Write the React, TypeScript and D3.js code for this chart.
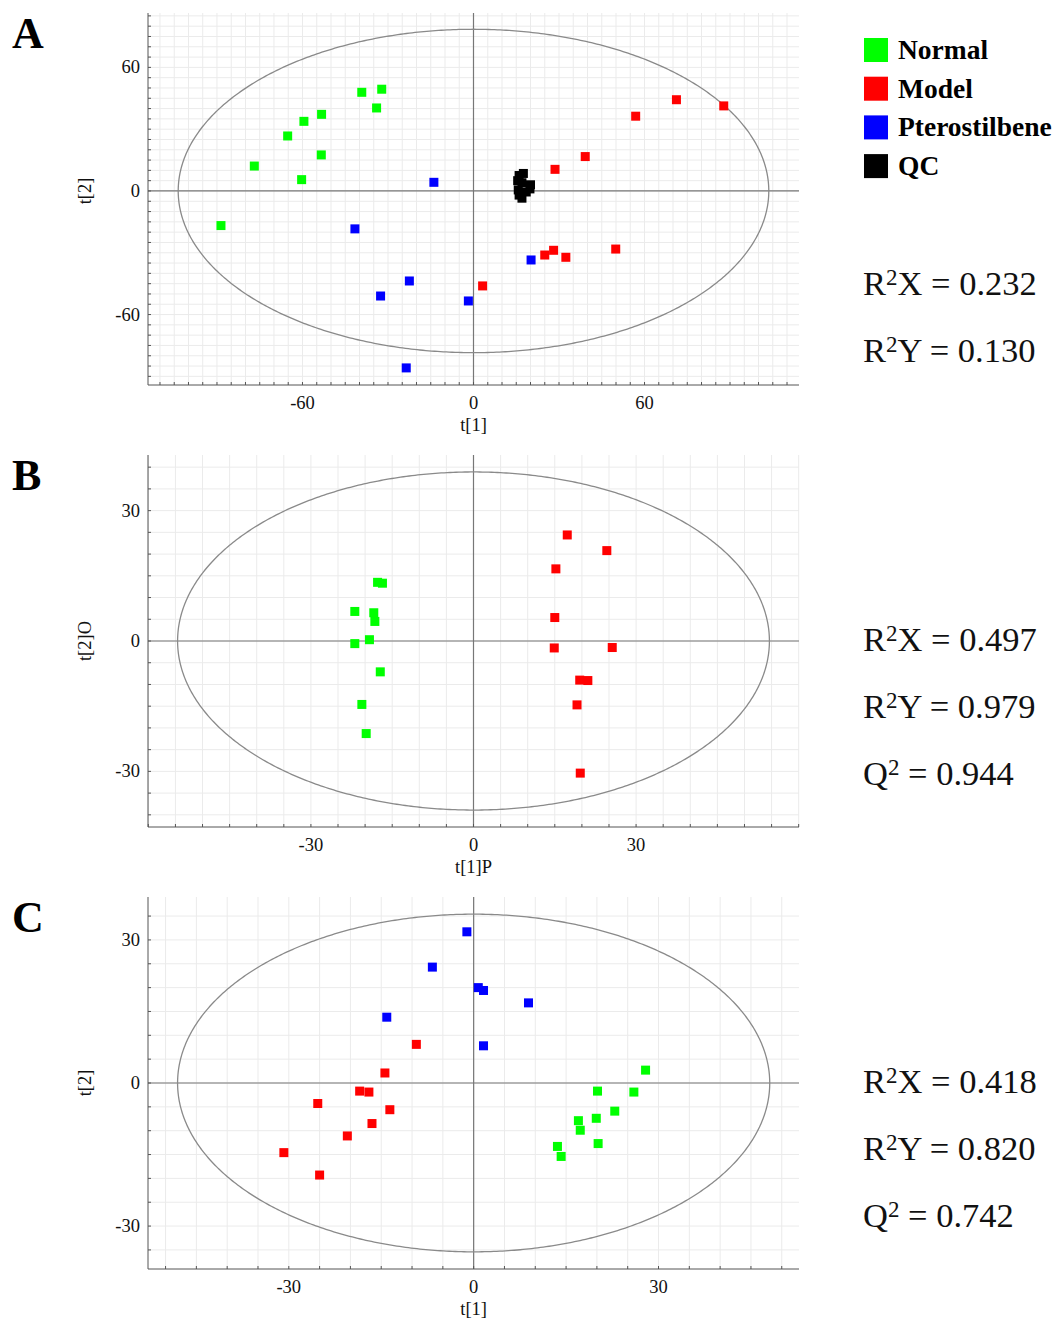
import React from "react";
import * as d3 from "d3";

type Pt = [number, number];

const groupNames = ["Normal", "Model", "Pterostilbene", "QC"];
const groupColors = ["#00ff00", "#ff0000", "#0000ff", "#000000"];

// Panel A (PCA) scores
const aNormal: Pt[] = [
  [-39.2, 47.9], [-32.2, 49.4], [-34.0, 40.3], [-53.3, 37.2], [-59.5, 33.8],
  [-65.2, 26.7], [-53.4, 17.5], [-76.9, 12.1], [-60.3, 5.5], [-88.6, -16.8],
];
const aModel: Pt[] = [
  [28.6, 10.5], [39.2, 16.7], [56.9, 36.3], [71.2, 44.3], [87.8, 41.3],
  [3.2, -46.1], [25.0, -31.1], [28.1, -28.8], [32.4, -32.2], [49.9, -28.2],
];
const aPtero: Pt[] = [
  [-13.9, 4.2], [-41.6, -18.4], [-22.5, -43.7], [-32.6, -51.0], [-1.8, -53.4],
  [-23.6, -85.9], [20.2, -33.5],
];
const aQC: Pt[] = [
  [16.0, 7.5], [17.5, 8.5], [15.5, 5.0], [17.0, 4.0], [19.8, 1.0],
  [20.0, 3.0], [18.5, -0.5], [16.0, -2.0], [17.0, -3.5], [15.7, 0.5],
];

// Panel B (OPLS-DA) scores
const bNormal: Pt[] = [
  [-17.7, 13.5], [-16.8, 13.3], [-21.9, 6.8], [-18.4, 6.5], [-18.2, 4.5],
  [-19.2, 0.3], [-21.9, -0.6], [-17.2, -7.1], [-20.6, -14.6], [-19.8, -21.3],
];
const bModel: Pt[] = [
  [17.3, 24.4], [24.6, 20.8], [15.2, 16.6], [15.0, 5.4], [14.9, -1.6],
  [25.6, -1.5], [19.6, -9.0], [21.1, -9.1], [19.1, -14.7], [19.7, -30.4],
];

// Panel C (PLS-DA) scores
const cNormal: Pt[] = [
  [27.9, 2.7], [20.1, -1.7], [26.0, -1.9], [22.9, -5.9], [17.0, -7.9],
  [19.9, -7.4], [17.3, -9.9], [20.2, -12.7], [13.6, -13.3], [14.2, -15.4],
];
const cModel: Pt[] = [
  [-9.3, 8.1], [-14.4, 2.1], [-18.5, -1.7], [-17.0, -1.9], [-25.3, -4.3],
  [-13.6, -5.6], [-16.5, -8.5], [-20.5, -11.1], [-30.8, -14.6], [-25.0, -19.3],
];
const cPtero: Pt[] = [
  [-1.1, 31.7], [-6.7, 24.3], [-14.1, 13.8], [0.75, 20.0], [1.6, 19.4],
  [8.9, 16.8], [1.6, 7.8],
];

const ticksA = [-60, 0, 60];
const ticksB = [-30, 0, 30];
const ticksC = [-30, 0, 30];

const statsA = [["R", "2", "X = 0.232"], ["R", "2", "Y = 0.130"]];
const statsB = [["R", "2", "X = 0.497"], ["R", "2", "Y = 0.979"], ["Q", "2", " = 0.944"]];
const statsC = [["R", "2", "X = 0.418"], ["R", "2", "Y = 0.820"], ["Q", "2", " = 0.742"]];

const SERIF = "'Liberation Serif', 'Times New Roman', serif";

type PanelProps = {
  letter: string;
  top: number;
  bottom: number;
  xDomain: [number, number];
  yDomain: [number, number];
  ell: [number, number];
  ticks: number[];
  xLabel: string;
  yLabel: string;
  series: { pts: Pt[]; g: number }[];
  stats: string[][];
  statY: number;
};

const LEFT = 148;
const RIGHT = 799;
const SQ = 9;

function Panel(p: PanelProps) {
  const x = d3.scaleLinear().domain(p.xDomain).range([LEFT, RIGHT]);
  const y = d3.scaleLinear().domain(p.yDomain).range([p.bottom, p.top]);
  const gx = d3.range(Math.ceil(p.xDomain[0] / 5) * 5, p.xDomain[1] + 0.001, 5);
  const gy = d3.range(Math.ceil(p.yDomain[0] / 5) * 5, p.yDomain[1] + 0.001, 5);
  const ellPath = d3.line<number>()
    .x((t) => x(p.ell[0] * Math.cos(t)))
    .y((t) => y(p.ell[1] * Math.sin(t)))(d3.range(0, 2 * Math.PI + 0.01, 0.01));
  return (
    <g>
      <text x={12} y={p.top + 35} fontFamily={SERIF} fontWeight="bold" fontSize={44}>{p.letter}</text>
      {gx.map((v) => (
        <line key={"gx" + v} x1={x(v)} x2={x(v)} y1={p.top} y2={p.bottom} stroke="#ebebeb" strokeWidth={1} />
      ))}
      {gy.map((v) => (
        <line key={"gy" + v} x1={LEFT} x2={RIGHT} y1={y(v)} y2={y(v)} stroke="#ebebeb" strokeWidth={1} />
      ))}
      <line x1={x(0)} x2={x(0)} y1={p.top} y2={p.bottom} stroke="#777" strokeWidth={1.2} />
      <line x1={LEFT} x2={RIGHT} y1={y(0)} y2={y(0)} stroke="#777" strokeWidth={1.2} />
      <path d={ellPath || ""} fill="none" stroke="#8a8a8a" strokeWidth={1.3} />
      <line x1={LEFT} x2={LEFT} y1={p.top} y2={p.bottom} stroke="#555" strokeWidth={1} />
      <line x1={LEFT} x2={RIGHT} y1={p.bottom} y2={p.bottom} stroke="#555" strokeWidth={1} />
      {gx.map((v) => (
        <line key={"tx" + v} x1={x(v)} x2={x(v)} y1={p.bottom} y2={p.bottom - 3} stroke="#555" strokeWidth={1} />
      ))}
      {gy.map((v) => (
        <line key={"ty" + v} x1={LEFT} x2={LEFT + 3} y1={y(v)} y2={y(v)} stroke="#555" strokeWidth={1} />
      ))}
      {p.ticks.map((v) => (
        <text key={"lx" + v} x={x(v)} y={p.bottom + 24} textAnchor="middle" fontFamily={SERIF} fontSize={18.5} fill="#111">{v}</text>
      ))}
      {p.ticks.map((v) => (
        <text key={"ly" + v} x={140} y={y(v) + 6} textAnchor="end" fontFamily={SERIF} fontSize={18.5} fill="#111">{v}</text>
      ))}
      <text x={x(0)} y={p.bottom + 46} textAnchor="middle" fontFamily={SERIF} fontSize={18.5} fill="#111">{p.xLabel}</text>
      <text transform={`translate(91,${y(0)}) rotate(-90)`} textAnchor="middle" fontFamily={SERIF} fontSize={18.5} fill="#111">{p.yLabel}</text>
      {p.series.map((s, si) =>
        s.pts.map((d, i) => (
          <rect key={si + "-" + i} x={x(d[0]) - SQ / 2} y={y(d[1]) - SQ / 2} width={SQ} height={SQ} fill={groupColors[s.g]} />
        ))
      )}
      {p.stats.map((s, i) => (
        <text key={"st" + i} x={863} y={p.statY + i * 67} fontFamily={SERIF} fontSize={34.5} fill="#111">
          {s[0]}
          <tspan fontSize={23} dy={-10}>{s[1]}</tspan>
          <tspan dy={10}>{s[2]}</tspan>
        </text>
      ))}
    </g>
  );
}

export default function App() {
  return (
    <svg width={1055} height={1322} style={{ display: "block", position: "absolute", left: 0, top: 0 }}>
      <rect width={1055} height={1322} fill="#fff" />
      <Panel
        letter="A" top={13} bottom={385}
        xDomain={[-114.2, 114.2]} yDomain={[-94.2, 86.4]} ell={[103.6, 78.5]}
        ticks={ticksA} xLabel="t[1]" yLabel="t[2]"
        series={[{ pts: aNormal, g: 0 }, { pts: aModel, g: 1 }, { pts: aPtero, g: 2 }, { pts: aQC, g: 3 }]}
        stats={statsA} statY={295}
      />
      <Panel
        letter="B" top={455} bottom={827}
        xDomain={[-60.06, 60.06]} yDomain={[-42.8, 42.8]} ell={[54.6, 38.9]}
        ticks={ticksB} xLabel="t[1]P" yLabel="t[2]O"
        series={[{ pts: bNormal, g: 0 }, { pts: bModel, g: 1 }]}
        stats={statsB} statY={651}
      />
      <Panel
        letter="C" top={897} bottom={1269}
        xDomain={[-52.85, 52.8]} yDomain={[-39, 39]} ell={[48.05, 35.4]}
        ticks={ticksC} xLabel="t[1]" yLabel="t[2]"
        series={[{ pts: cNormal, g: 0 }, { pts: cModel, g: 1 }, { pts: cPtero, g: 2 }]}
        stats={statsC} statY={1093}
      />
      {groupNames.map((n, i) => (
        <g key={n}>
          <rect x={864} y={38 + i * 38.7} width={24} height={24} fill={groupColors[i]} />
          <text x={898} y={59 + i * 38.7} fontFamily={SERIF} fontWeight="bold" fontSize={27.5} fill="#000">{n}</text>
        </g>
      ))}
    </svg>
  );
}
